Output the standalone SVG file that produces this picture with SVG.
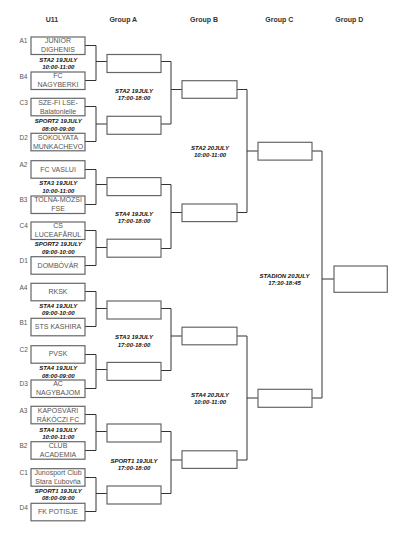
<svg xmlns="http://www.w3.org/2000/svg" width="400" height="533" viewBox="0 0 400 533">
<style>
.bx{fill:#fff;stroke:#666;stroke-width:1.2}
.cn{fill:none;stroke:#333;stroke-width:1}
.hd{font-family:"Liberation Sans",Arial,sans-serif;font-size:7px;font-weight:bold;fill:#333;text-anchor:middle}
.tm{font-family:"Liberation Sans",Arial,sans-serif;font-size:7px;fill:#555;text-anchor:middle}
.sd{font-family:"Liberation Sans",Arial,sans-serif;font-size:6.5px;fill:#555}
.ml{font-family:"Liberation Sans",Arial,sans-serif;font-size:6px;font-weight:bold;font-style:italic;fill:#111;text-anchor:middle}
</style>
<rect width="400" height="533" fill="#fff"/>
<g id="headers">
<text class="hd" x="52" y="22.3">U11</text>
<text class="hd" x="123.3" y="22.3">Group A</text>
<text class="hd" x="204" y="22.3">Group B</text>
<text class="hd" x="279.3" y="22.3">Group C</text>
<text class="hd" x="349.3" y="22.3">Group D</text>
</g>
<g id="connectors">
<path class="cn" d="M85 45.5H96V80.5H85M96 61.5H107"/>
<path class="cn" d="M85 106.5H96V141.5H85M96 124H107"/>
<path class="cn" d="M85 169.5H96V204.5H85M96 184.5H107"/>
<path class="cn" d="M85 230.5H96V265.5H85M96 247.5H107"/>
<path class="cn" d="M85 291.5H96V326.5H85M96 308.5H107"/>
<path class="cn" d="M85 354.5H96V388.5H85M96 369.5H107"/>
<path class="cn" d="M85 414.5H96V450.5H85M96 431.5H107"/>
<path class="cn" d="M85 477.5H96V511.5H85M96 493.5H107"/>
<path class="cn" d="M161 61.5H171V124H161M171 89.5H182"/>
<path class="cn" d="M161 184.5H171V248.5H161M171 212.5H182"/>
<path class="cn" d="M161 308.5H171V370.5H161M171 336H182"/>
<path class="cn" d="M161 431.5H171V493.5H161M171 460H182"/>
<path class="cn" d="M237 89.5H247V212.5H237M247 151H258"/>
<path class="cn" d="M237 336H247V460H237M247 398H258"/>
<path class="cn" d="M312 151H322V398H312M322 279H334"/>
</g>
<g id="m-A1"><text class="sd" x="19.5" y="43.3">A1</text><rect class="bx" x="31" y="37" width="54" height="17.5"/><text class="tm" x="58" y="43.3">JUNIOR</text><text class="tm" x="58" y="52.3">DIGHENIS</text></g>
<g id="m-B4"><text class="sd" x="19.5" y="78.5">B4</text><rect class="bx" x="31" y="72" width="54" height="17.5"/><text class="tm" x="58" y="78">FC</text><text class="tm" x="58" y="87.3">NAGYBERKI</text></g>
<g id="m-C3"><text class="sd" x="19.5" y="104.6">C3</text><rect class="bx" x="31" y="98.3" width="54" height="17.5"/><text class="tm" x="58" y="104.6">SZE-FI LSE-</text><text class="tm" x="58" y="113.6">Balatonlelle</text></g>
<g id="m-D2"><text class="sd" x="19.5" y="139.6">D2</text><rect class="bx" x="31" y="133.3" width="54" height="17.5"/><text class="tm" x="58" y="139.6">SOKOLYATA</text><text class="tm" x="58" y="148.6">MUNKACHEVO</text></g>
<g id="m-A2"><text class="sd" x="19.5" y="167">A2</text><rect class="bx" x="31" y="160.7" width="54" height="17.5"/><text class="tm" x="58" y="171.5">FC VASLUI</text></g>
<g id="m-B3"><text class="sd" x="19.5" y="202.3">B3</text><rect class="bx" x="31" y="196" width="54" height="17.5"/><text class="tm" x="58" y="202.3">TOLNA-MÓZSI</text><text class="tm" x="58" y="211.3">FSE</text></g>
<g id="m-C4"><text class="sd" x="19.5" y="228.3">C4</text><rect class="bx" x="31" y="222" width="54" height="17.5"/><text class="tm" x="58" y="228.3">CS</text><text class="tm" x="58" y="237.3">LUCEAFĂRUL</text></g>
<g id="m-D1"><text class="sd" x="19.5" y="263">D1</text><rect class="bx" x="31" y="256.7" width="54" height="17.5"/><text class="tm" x="58" y="267.5">DOMBÓVÁR</text></g>
<g id="m-A4"><text class="sd" x="19.5" y="289.6">A4</text><rect class="bx" x="31" y="283.3" width="54" height="17.5"/><text class="tm" x="58" y="294">RKSK</text></g>
<g id="m-B1"><text class="sd" x="19.5" y="324.6">B1</text><rect class="bx" x="31" y="318.3" width="54" height="17.5"/><text class="tm" x="58" y="329">STS KASHIRA</text></g>
<g id="m-C2"><text class="sd" x="19.5" y="352">C2</text><rect class="bx" x="31" y="345.7" width="54" height="17.5"/><text class="tm" x="58" y="356.4">PVSK</text></g>
<g id="m-D3"><text class="sd" x="19.5" y="386.3">D3</text><rect class="bx" x="31" y="380" width="54" height="17.5"/><text class="tm" x="58" y="386.3">AC</text><text class="tm" x="58" y="395.3">NAGYBAJOM</text></g>
<g id="m-A3"><text class="sd" x="19.5" y="412.6">A3</text><rect class="bx" x="31" y="406.3" width="54" height="17.5"/><text class="tm" x="58" y="412.6">KAPOSVÁRI</text><text class="tm" x="58" y="421.6">RÁKÓCZI FC</text></g>
<g id="m-B2"><text class="sd" x="19.5" y="448">B2</text><rect class="bx" x="31" y="441.7" width="54" height="17.5"/><text class="tm" x="58" y="448">CLUB</text><text class="tm" x="58" y="457">ACADEMIA</text></g>
<g id="m-C1"><text class="sd" x="19.5" y="475">C1</text><rect class="bx" x="31" y="468.7" width="54" height="17.5"/><text class="tm" x="58" y="475">Junosport Club</text><text class="tm" x="58" y="484">Stara Ľubovňa</text></g>
<g id="m-D4"><text class="sd" x="19.5" y="509.6">D4</text><rect class="bx" x="31" y="503.3" width="54" height="17.5"/><text class="tm" x="58" y="514">FK POTISJE</text></g>
<g id="labels-r1">
<text class="ml" x="58.3" y="61.8">STA2 19JULY</text><text class="ml" x="58.3" y="69">10:00-11:00</text>
<text class="ml" x="58.3" y="123.3">SPORT2 19JULY</text><text class="ml" x="58.3" y="130.5">08:00-09:00</text>
<text class="ml" x="58.3" y="185.4">STA3 19JULY</text><text class="ml" x="58.3" y="192.7">10:00-11:00</text>
<text class="ml" x="58.3" y="246.2">SPORT2 19JULY</text><text class="ml" x="58.3" y="253.7">09:00-10:00</text>
<text class="ml" x="58.3" y="308">STA4 19JULY</text><text class="ml" x="58.3" y="315.2">09:00-10:00</text>
<text class="ml" x="58.3" y="370.2">STA4 19JULY</text><text class="ml" x="58.3" y="377.5">08:00-09:00</text>
<text class="ml" x="58.3" y="431.7">STA4 19JULY</text><text class="ml" x="58.3" y="438.8">10:00-11:00</text>
<text class="ml" x="58.3" y="492.8">SPORT1 19JULY</text><text class="ml" x="58.3" y="500">08:00-09:00</text>
</g>
<g id="r2-1"><rect class="bx" x="107" y="54.5" width="54" height="18"/></g>
<g id="r2-2"><rect class="bx" x="107" y="116.3" width="54" height="18"/></g>
<g id="r2-3"><rect class="bx" x="107" y="177.6" width="54" height="18"/></g>
<g id="r2-4"><rect class="bx" x="107" y="239.2" width="54" height="18"/></g>
<g id="r2-5"><rect class="bx" x="107" y="301" width="54" height="18"/></g>
<g id="r2-6"><rect class="bx" x="107" y="362.4" width="54" height="18"/></g>
<g id="r2-7"><rect class="bx" x="107" y="424" width="54" height="18"/></g>
<g id="r2-8"><rect class="bx" x="107" y="486" width="54" height="18"/></g>
<g id="labels-r2">
<text class="ml" x="134" y="92.6">STA2 19JULY</text><text class="ml" x="134" y="100.1">17:00-18:00</text>
<text class="ml" x="134" y="215.8">STA4 19JULY</text><text class="ml" x="134" y="223">17:00-18:00</text>
<text class="ml" x="134" y="339.3">STA3 19JULY</text><text class="ml" x="134" y="346.7">17:00-18:00</text>
<text class="ml" x="134" y="463">SPORT1 19JULY</text><text class="ml" x="134" y="470.4">17:00-18:00</text>
</g>
<g id="r3-1"><rect class="bx" x="182" y="80.7" width="55" height="17.6"/></g>
<g id="r3-2"><rect class="bx" x="182" y="204" width="55" height="17.6"/></g>
<g id="r3-3"><rect class="bx" x="182" y="327.2" width="55" height="17.6"/></g>
<g id="r3-4"><rect class="bx" x="182" y="450.8" width="55" height="17.6"/></g>
<g id="labels-r3">
<text class="ml" x="210" y="149.5">STA2 20JULY</text><text class="ml" x="210" y="157">10:00-11:00</text>
<text class="ml" x="210" y="396.7">STA4 20JULY</text><text class="ml" x="210" y="403.8">10:00-11:00</text>
</g>
<g id="r4-1"><rect class="bx" x="258" y="142.3" width="54" height="17.8"/></g>
<g id="r4-2"><rect class="bx" x="258" y="389.3" width="54" height="18"/></g>
<g id="label-r4"><text class="ml" x="284.5" y="277.5">STADION 20JULY</text><text class="ml" x="284.5" y="285">17:30-18:45</text></g>
<g id="final"><rect class="bx" x="334" y="266" width="53.3" height="26.3"/></g>
</svg>
